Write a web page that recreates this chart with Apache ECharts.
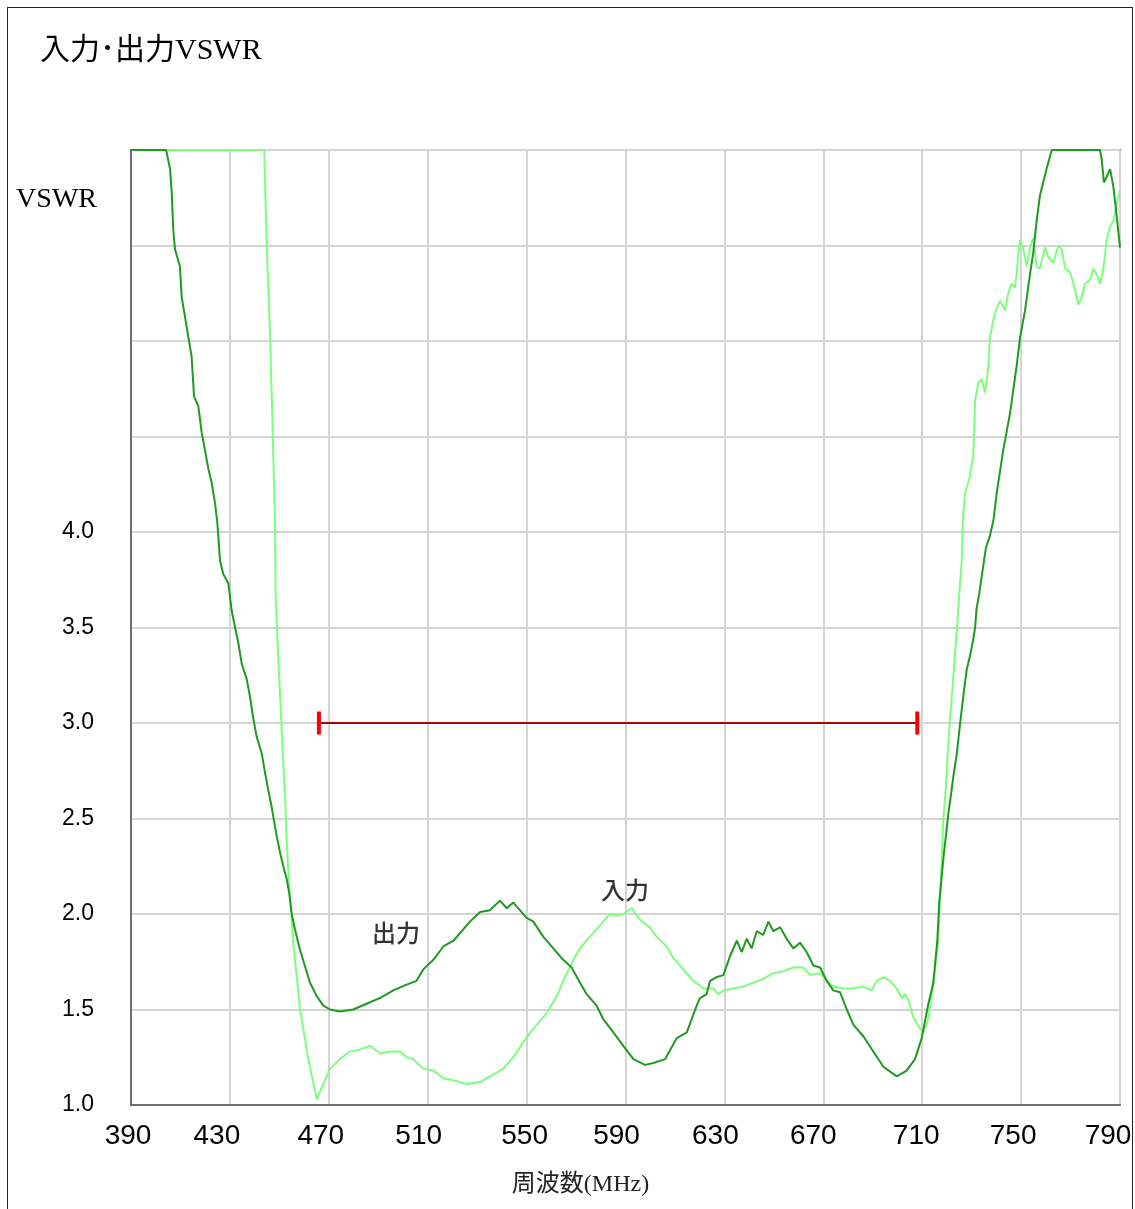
<!DOCTYPE html>
<html>
<head>
<meta charset="utf-8">
<script src="https://cdn.jsdelivr.net/npm/echarts/dist/echarts.min.js"></script>
<style>
  html, body { margin: 0; padding: 0; background: #fff; overflow: hidden; }
  #frame { position: absolute; left: 7px; top: 7px; width: 1126px; height: 1300px; border: 1px solid #222; box-sizing: border-box; }
  #chart { position: absolute; left: 0; top: 0; width: 1135px; height: 1209px; }
</style>
</head>
<body>
<div id="frame"></div>
<div id="chart"></div>
<script>
// ---- data ----
const titleText = '入力･出力VSWR';
const xAxisTitle = '周波数(MHz)';
const yAxisTitle = 'VSWR';
const xTickLabels = ['390','430','470','510','550','590','630','670','710','750','790'];
const yTickLabels = ['1.0','1.5','2.0','2.5','3.0','3.5','4.0'];

// 出力 (output) VSWR
const outputFreq = [390,404.2,405.8,406.5,407.1,407.8,409.8,410.5,411.8,413.2,414.5,415.5,417.2,418.6,419.9,421.3,422.6,424.0,424.9,426.0,427.3,429.4,430.7,432.1,433.4,434.8,436.8,438.1,439.5,440.8,442.9,444.2,445.5,446.9,447.8,448.9,450.3,451.6,453.0,454.0,455.0,456.3,458.4,462.4,465.1,467.8,470.5,474.5,479.9,485.3,490.7,496.1,501.5,505.5,508.2,512.3,516.3,520.4,524.4,527.1,531.2,535.2,539.2,542.0,544.6,547.3,550.0,552.7,556.8,560.8,564.8,568.2,571.6,574.3,578.3,581.0,585.1,589.1,593.2,597.9,601.3,606.0,610.7,614.8,618.8,620.1,622.8,624.2,626.9,629.6,632.3,635.0,637.0,639.0,641.0,643.1,645.7,647.8,649.8,652.5,655.2,657.9,660.6,663.3,666.0,668.7,671.4,674.0,676.8,679.5,682.2,686.2,690.2,694.3,699.7,703.7,707.1,709.8,712.5,714.5,716.1,716.9,717.9,718.8,719.6,720.6,721.5,722.6,724.0,725.0,726.0,726.9,728.0,729.3,730.4,731.4,732.0,733.1,734.1,735.0,735.8,737.4,738.8,740.1,742.8,745.5,748.2,749.6,751.6,753.6,754.9,756.3,757.6,760.3,762.4,781.9,782.6,783.5,784.6,786.0,787.3,788.7,790];
const outputVswr = [6,6,5.90,5.77,5.58,5.48,5.39,5.23,5.13,5.02,4.92,4.71,4.66,4.52,4.43,4.33,4.26,4.15,4.05,3.85,3.78,3.73,3.59,3.50,3.42,3.31,3.23,3.14,3.02,2.93,2.84,2.74,2.65,2.56,2.49,2.41,2.32,2.25,2.18,2.11,2.00,1.92,1.81,1.64,1.57,1.52,1.50,1.49,1.50,1.53,1.56,1.60,1.63,1.65,1.71,1.76,1.83,1.86,1.92,1.96,2.01,2.02,2.07,2.03,2.06,2.02,1.98,1.96,1.88,1.82,1.76,1.72,1.64,1.58,1.52,1.45,1.38,1.31,1.24,1.21,1.22,1.24,1.35,1.38,1.52,1.56,1.58,1.65,1.67,1.68,1.78,1.86,1.80,1.87,1.82,1.91,1.89,1.96,1.91,1.93,1.87,1.82,1.85,1.80,1.73,1.72,1.65,1.60,1.59,1.50,1.42,1.36,1.28,1.20,1.15,1.18,1.24,1.35,1.53,1.64,1.86,2.06,2.20,2.32,2.41,2.53,2.61,2.72,2.84,2.96,3.07,3.17,3.28,3.35,3.42,3.50,3.60,3.68,3.77,3.85,3.92,3.98,4.06,4.20,4.43,4.62,4.87,5.02,5.16,5.35,5.46,5.63,5.76,5.90,6,6,5.95,5.83,5.86,5.90,5.81,5.65,5.49];

// 入力 (input) VSWR
const inputFreq = [390,443.9,444.2,444.9,446.2,447.3,448.2,448.5,449.6,450.5,451.3,452.3,453.0,454.0,455.0,455.6,458.4,461.7,465.1,467.8,470.5,474.5,478.6,482.6,486.7,490.7,494.8,498.8,501.5,504.2,508.2,512.3,516.3,520.4,525.8,531.2,535.2,540.6,544.6,548.7,552.7,558.1,562.2,566.2,568.9,571.6,575.6,579.7,583.7,586.4,589.1,592.5,595.9,599.9,602.6,606.7,609.3,613.4,617.4,621.5,625.5,627.5,629.6,633.6,637.6,641.7,645.7,649.8,653.8,657.9,661.9,664.6,668.7,671.4,674.0,678.1,682.1,686.2,689.6,691.6,694.3,697.0,699.7,701.7,703.1,704.4,706.4,709.1,710.5,712.5,714.5,716.5,717.2,717.9,718.5,719.6,720.3,721.2,722.3,723.3,724.2,725.0,726.0,726.4,727.3,729.3,730.7,731.4,732.7,734.1,735.4,736.8,737.4,739.4,741.5,743.5,744.8,746.2,747.5,748.2,748.9,749.6,750.9,752.3,753.6,754.9,756.3,757.6,759.7,761.0,763.0,765.1,766.4,767.8,769.8,771.2,773.2,774.5,775.8,777.9,779.2,780.6,781.9,783.2,784.6,786.0,787.3,788.7,790];
const inputVswr = [6,6,5.83,5.49,5.05,4.53,4.06,3.66,3.33,3.09,2.86,2.61,2.37,2.14,1.97,1.85,1.50,1.24,1.03,1.11,1.19,1.24,1.28,1.29,1.31,1.27,1.28,1.28,1.25,1.24,1.19,1.18,1.14,1.13,1.11,1.12,1.15,1.19,1.25,1.33,1.40,1.48,1.57,1.69,1.76,1.82,1.88,1.94,2.00,1.99,2.00,2.03,1.97,1.93,1.88,1.83,1.77,1.71,1.65,1.61,1.61,1.58,1.60,1.61,1.62,1.64,1.66,1.69,1.70,1.72,1.72,1.68,1.69,1.65,1.62,1.61,1.61,1.62,1.60,1.65,1.67,1.65,1.61,1.56,1.58,1.55,1.46,1.40,1.38,1.45,1.64,1.86,2.09,2.28,2.49,2.67,2.84,3.02,3.19,3.37,3.52,3.68,3.85,4.06,4.20,4.29,4.41,4.69,4.78,4.80,4.73,4.87,5.02,5.15,5.21,5.16,5.25,5.30,5.28,5.35,5.46,5.53,5.48,5.39,5.49,5.54,5.39,5.38,5.49,5.44,5.41,5.50,5.48,5.38,5.36,5.30,5.19,5.23,5.30,5.32,5.38,5.35,5.30,5.37,5.53,5.60,5.63,5.72,5.79];

// spec line (VSWR limit over band)
const specFreq = [466, 708];
const specVswr = [3.0, 3.0];

// curve annotations
const annoNames = ['出力', '入力'];
const annoFreq = [497.2, 589.8];
const annoVswr = [1.90, 2.125];

// ---- styles / layout ----
const xLabelShift = [-3, -13, -8, -9, -2, -9, -9, -10, -6, -8, -12];
const zip = (a, b) => a.map((v, i) => [v, b[i]]);

const rich = {};
xLabelShift.forEach((s, i) => {
  rich['x' + i] = {
    fontFamily: "'Liberation Sans Narrow', 'Liberation Sans', sans-serif",
    fontSize: 28, color: '#000',
    padding: s < 0 ? [0, -2 * s, 0, 0] : [0, 0, 0, 2 * s]
  };
});

const chart = echarts.init(document.getElementById('chart'), null, { renderer: 'canvas' });
chart.setOption({
  animation: false,
  backgroundColor: 'transparent',
  title: {
    text: titleText, left: 40, top: 36, padding: 0,
    textStyle: { fontFamily: "'Liberation Serif', 'Noto Sans CJK JP', serif", fontSize: 30, fontWeight: 'normal', color: '#000' }
  },
  grid: { left: 131, right: 15, top: 150, bottom: 104, containLabel: false, show: true, borderColor: '#6e6e6e', borderWidth: 2, backgroundColor: '#fff' },
  xAxis: {
    type: 'value', min: 390, max: 790, interval: 40,
    name: xAxisTitle, nameLocation: 'middle', nameGap: 68,
    nameTextStyle: { fontFamily: "'Liberation Serif', 'Noto Sans CJK JP', serif", fontSize: 24, color: '#222', padding: [0, 90, 0, 0] },
    axisLine: { show: true, lineStyle: { color: '#6e6e6e', width: 2 } },
    axisTick: { show: false },
    splitLine: { show: true, lineStyle: { color: '#d4d4d4', width: 2 } },
    axisLabel: {
      margin: 17,
      formatter: (v) => {
        const i = Math.round((v - 390) / 40);
        return '{x' + i + '|' + xTickLabels[i] + '}';
      },
      rich: rich
    }
  },
  yAxis: {
    type: 'value', min: 1, max: 6, interval: 0.5,
    name: yAxisTitle, nameLocation: 'end', nameGap: -64,
    nameTextStyle: { fontFamily: "'Liberation Serif', serif", fontSize: 28, color: '#000', align: 'right', verticalAlign: 'bottom', padding: [0, 34, 0, 0] },
    axisLine: { show: true, lineStyle: { color: '#6e6e6e', width: 2 } },
    axisTick: { show: false },
    splitLine: { show: true, lineStyle: { color: '#d4d4d4', width: 2 } },
    axisLabel: {
      margin: 37,
      fontFamily: "'Liberation Sans Narrow', 'Liberation Sans', sans-serif",
      fontSize: 23, color: '#000',
      formatter: (v) => {
        const i = Math.round((v - 1) / 0.5);
        return i < yTickLabels.length ? yTickLabels[i] : '';
      }
    }
  },
  series: [
    {
      name: '入力', type: 'line', data: zip(inputFreq, inputVswr),
      showSymbol: false, symbol: 'none', clip: false, z: 3,
      lineStyle: { color: '#7dff7d', width: 2 }
    },
    {
      name: '出力', type: 'line', data: zip(outputFreq, outputVswr),
      showSymbol: false, symbol: 'none', clip: false, z: 4,
      lineStyle: { color: '#1f9a1f', width: 2 }
    },
    {
      name: 'spec', type: 'line', data: zip(specFreq, specVswr),
      symbol: 'rect', symbolSize: [4, 23], showSymbol: true, clip: false, z: 5,
      itemStyle: { color: '#ff0000' },
      lineStyle: { color: '#b00000', width: 2 }
    },
    {
      name: 'labels', type: 'scatter', symbolSize: 0, z: 6,
      data: annoNames.map((n, i) => ({ name: n, value: [annoFreq[i], annoVswr[i]] })),
      label: {
        show: true, position: 'inside', formatter: (p) => p.name,
        fontFamily: "'Noto Sans CJK JP', sans-serif", fontSize: 24, fontWeight: 500, color: '#000'
      }
    }
  ]
});
</script>
</body>
</html>
